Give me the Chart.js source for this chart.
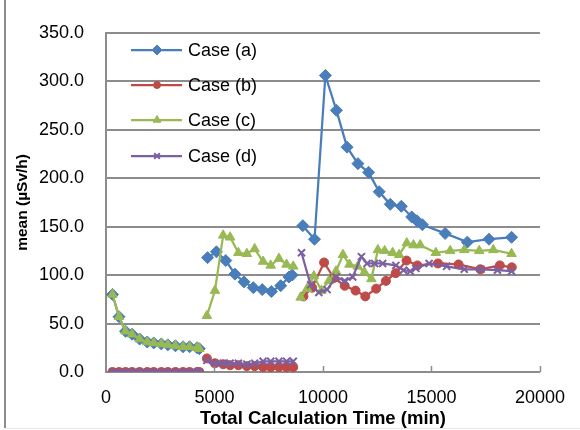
<!DOCTYPE html>
<html>
<head>
<meta charset="utf-8">
<script src="https://cdn.jsdelivr.net/npm/chart.js@4.4.1/dist/chart.umd.min.js"></script>
<style>
  html, body { margin: 0; padding: 0; background: #fff; }
  #wrap { width: 580px; height: 430px; position: relative; }
</style>
</head>
<body>
<div id="wrap"><canvas id="doseChart" width="580" height="430"></canvas></div>
<script>
// null marks a break between calculation runs
var timeA = [300, 600, 900, 1200, 1550, 1900, 2200, 2550, 2850, 3200, 3550, 3850, 4200, 4300, null,
  4680, 5090, 5520, 5940, 6360, 6790, 7200, 7620, 8050, 8430, 8580, null,
  9070, 9610, 10110, 10620, 11110, 11610, 12100, 12590, 13100, 13610, 14090, 14330, 14580, 15630, 16650, 17650, 18690];
var meanA = [80, 57, 42, 39, 34, 31, 30, 29, 28, 27, 26, 26, 25, 24, null,
  118, 124, 115, 101, 93, 87, 85, 83, 89, 98, 100, null,
  151, 137, 306, 270, 232, 215, 206, 186, 173, 171, 160, 156, 152, 143, 134, 137, 139];

var timeB = [300, 600, 900, 1200, 1550, 1900, 2200, 2550, 2850, 3200, 3550, 3850, 4200, 4300, null,
  4650, 5020, 5400, 5720, 6100, 6490, 6850, 7240, 7590, 7970, 8320, 8630, null,
  9100, 9500, 10050, 10500, 11000, 11500, 11950, 12450, 12900, 13350, 13850, 14350, 15300, 16250, 17250, 18150, 18700];
var meanB = [0, 0, 0, 0, 0, 0, 0, 0, 0, 0, 0, 0, 0, 0, null,
  14, 9, 8, 7, 7, 6, 6, 5, 5, 5, 5, 5, null,
  78, 87, 113, 97, 89, 84, 78, 86, 94, 102, 115, 110, 112, 111, 106, 110, 108];

var timeC = [300, 600, 900, 1200, 1550, 1900, 2200, 2550, 2850, 3200, 3550, 3850, 4200, 4300, null,
  4650, 5020, 5400, 5720, 6100, 6490, 6850, 7240, 7590, 7970, 8320, 8630, null,
  8970, 9270, 9580, 9930, 10270, 10600, 10920, 11220, 11600, 11910, 12230, 12530, 12840, 13210, 13510, 13860, 14170, 14480, 15200, 15860, 16510, 17200, 17850, 18690];
var meanC = [80, 57, 42, 39, 34, 31, 30, 29, 28, 27, 26, 26, 25, 24, null,
  58, 84, 141, 139, 123, 122, 127, 114, 110, 117, 111, 109, null,
  77, 86, 99, 84, 94, 104, 121, 111, 109, 103, 96, 126, 125, 123, 121, 133, 131, 131, 123, 125, 126, 125, 126, 122];

var timeD = [300, 600, 900, 1200, 1550, 1900, 2200, 2550, 2850, 3200, 3550, 3850, 4200, 4300, null,
  4650, 5020, 5400, 5720, 6100, 6490, 6850, 7240, 7590, 7970, 8320, 8630, null,
  9010, 9430, 9810, 10190, 10600, 11000, 11370, 11770, 12030, 12380, 12750, 13360, 13710, 14020, 14280, 14890, 15700, 16510, 17280, 18040, 18690];
var meanD = [0, 0, 0, 0, 0, 0, 0, 0, 0, 0, 0, 0, 0, 0, null,
  12, 9, 9, 9, 9, 8, 9, 11, 11, 11, 11, 11, null,
  123, 90, 82, 85, 98, 94, 98, 119, 112, 112, 112, 110, 105, 104, 107, 112, 109, 106, 106, 105, 104];

var caseNames = ["Case (a)", "Case (b)", "Case (c)", "Case (d)"];
var caseColors = ["#4A7EBB", "#BE4B48", "#98B954", "#7D60A0"];
var caseMarkers = ["rectRot", "circle", "triangle", "crossRot"];
var markerSizes = [6, 4.5, 5.5, 5];

var yTicks = [0, 50, 100, 150, 200, 250, 300, 350];
var xTicks = [0, 5000, 10000, 15000, 20000];

function pairs(t, m) {
  var out = [];
  for (var i = 0; i < t.length; i++) {
    out.push({ x: t[i], y: m[i] });
  }
  return out;
}

var allTimes = [timeA, timeB, timeC, timeD];
var allMeans = [meanA, meanB, meanC, meanD];

var datasets = [];
for (var k = 0; k < 4; k++) {
  datasets.push({
    label: caseNames[k],
    data: pairs(allTimes[k], allMeans[k]),
    borderColor: caseColors[k],
    backgroundColor: caseColors[k],
    pointBorderColor: caseColors[k],
    pointBackgroundColor: caseColors[k],
    pointStyle: caseMarkers[k],
    pointRadius: markerSizes[k],
    pointBorderWidth: k == 3 ? 2 : 1,
    borderWidth: 2.25,
    spanGaps: false,
    tension: 0,
    order: 4 - k
  });
}

var font = "'Liberation Sans', Arial, sans-serif";

// frame round the picture, tick marks on the x axis and the legend
var extras = {
  id: "extras",
  beforeDraw: function(chart) {
    var c = chart.ctx;
    c.save();
    c.fillStyle = "#fff";
    c.fillRect(0, 0, chart.width, chart.height);
    c.strokeStyle = "#8c8c8c";
    c.lineWidth = 2;
    c.beginPath();
    c.moveTo(5, 0);
    c.lineTo(5, 428);
    c.stroke();
    c.strokeStyle = "#e6e6e6";
    c.lineWidth = 1;
    c.beginPath();
    c.moveTo(5, 428.5);
    c.lineTo(580, 428.5);
    c.stroke();
    c.restore();
  },
  afterDatasetsDraw: function(chart) {
    var c = chart.ctx;
    var xs = chart.scales.x;
    var bottom = chart.chartArea.bottom;
    c.save();
    c.strokeStyle = "#8c8c8c";
    c.lineWidth = 1.5;
    xTicks.forEach(function(v) {
      if (v === 0) return;
      var px = Math.round(xs.getPixelForValue(v)) + 0.5;
      c.beginPath();
      c.moveTo(px, bottom);
      c.lineTo(px, bottom - 6);
      c.stroke();
    });

    // legend, top left inside the plot
    var rowY = [50, 85, 120, 156];
    c.font = "18px " + font;
    c.textBaseline = "middle";
    c.textAlign = "left";
    for (var k = 0; k < 4; k++) {
      var y = rowY[k];
      c.strokeStyle = caseColors[k];
      c.lineWidth = 2.25;
      c.beginPath();
      c.moveTo(131, y);
      c.lineTo(182, y);
      c.stroke();
      c.fillStyle = caseColors[k];
      c.lineWidth = k == 3 ? 2 : 1;
      Chart.helpers.drawPoint(c, {
        pointStyle: caseMarkers[k],
        radius: markerSizes[k] - 1,
        borderWidth: k == 3 ? 2 : 1
      }, 157, y);
      c.fillStyle = "#000";
      c.fillText(caseNames[k], 188, y + 1);
    }
    c.restore();
  }
};

var options = {
  responsive: false,
  animation: false,
  layout: { padding: { top: 28, right: 38, left: 0, bottom: 0 } },
  plugins: {
    legend: { display: false },
    tooltip: { enabled: false }
  },
  scales: {
    x: {
      type: "linear",
      min: 0,
      max: 20000,
      afterBuildTicks: function(scale) {
        scale.ticks = xTicks.map(function(v) { return { value: v }; });
      },
      afterFit: function(scale) { scale.height = 58; },
      grid: { display: true, drawOnChartArea: false, drawTicks: false },
      border: { color: "#8c8c8c", width: 2 },
      ticks: {
        color: "#000",
        font: { family: font, size: 18 },
        padding: 15,
        maxRotation: 0,
        callback: function(v) { return String(v); }
      },
      title: {
        display: true,
        text: "Total Calculation Time (min)",
        color: "#000",
        font: { family: font, size: 18.5, weight: "bold" },
        padding: { top: 0, bottom: 0 }
      }
    },
    y: {
      min: 0,
      max: 350,
      afterBuildTicks: function(scale) {
        scale.ticks = yTicks.map(function(v) { return { value: v }; });
      },
      afterFit: function(scale) { scale.width = 106; },
      grid: { color: "#8c8c8c", lineWidth: 2, drawTicks: false },
      border: { color: "#8c8c8c", width: 2 },
      ticks: {
        color: "#000",
        font: { family: font, size: 18 },
        padding: 22,
        callback: function(v) { return Number(v).toFixed(1); }
      },
      title: {
        display: true,
        text: "mean (\u00b5Sv/h)",
        color: "#000",
        font: { family: font, size: 15.5, weight: "bold" },
        padding: { top: 13, bottom: 0 }
      }
    }
  }
};

var chart = new Chart(document.getElementById("doseChart"), {
  type: "line",
  data: { datasets: datasets },
  options: options,
  plugins: [extras]
});
</script>
</body>
</html>
